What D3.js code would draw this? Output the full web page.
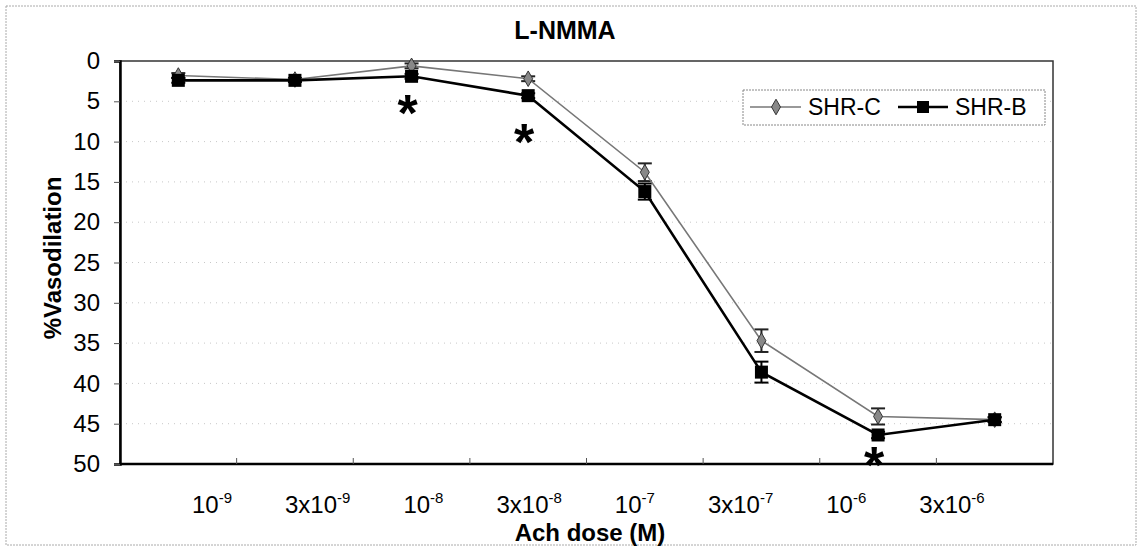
<!DOCTYPE html>
<html>
<head>
<meta charset="utf-8">
<script src="https://cdn.jsdelivr.net/npm/d3@7"></script>
<style>
  body { margin: 0; background: #fff; }
  text { font-family: Arial, "Liberation Sans", sans-serif; }
</style>
</head>
<body>
<div class="chart"></div>
<script>
// doses (tick labels: base + exponent)
var doses = ["1e-9", "3e-9", "1e-8", "3e-8", "1e-7", "3e-7", "1e-6", "3e-6"];
var doseBase = ["10", "3x10", "10", "3x10", "10", "3x10", "10", "3x10"];
var doseExp = ["-9", "-9", "-8", "-8", "-7", "-7", "-6", "-6"];

var shrC = [1.8, 2.3, 0.6, 2.2, 13.8, 34.7, 44.1, 44.5];
var shrCerr = [0.3, 0.2, 0.3, 0.3, 1.1, 1.4, 1.0, 0.3];
var shrB = [2.4, 2.4, 1.9, 4.3, 16.2, 38.6, 46.4, 44.5];
var shrBerr = [0.3, 0.2, 0.3, 0.3, 1.0, 1.3, 0.4, 0.3];

// significance marks: [dose index, y value]
var stars = [[2, 5.6], [3, 9.2], [6, 49.3]];

var yTicks = [0, 5, 10, 15, 20, 25, 30, 35, 40, 45, 50];

var W = 1140, H = 549;
var pLeft = 120, pRight = 1053, pTop = 61, pBottom = 464;

var svg = d3.select("div.chart").append("svg")
    .attr("width", W).attr("height", H);

// outer frame
svg.append("rect")
    .attr("x", 6).attr("y", 6).attr("width", W - 10).attr("height", H - 10)
    .attr("fill", "none").attr("stroke", "#aaa")
    .attr("stroke-dasharray", "2,1");

var x = d3.scaleBand().domain(doses).range([pLeft, pRight]);
var xc = function(d){ return x(d) + x.bandwidth() / 2; };
var xLab = d3.scalePoint().domain(doses).range([212, 952]);
var y = d3.scaleLinear().domain([0, 50]).range([pTop, pBottom]);

// grid
svg.append("g").selectAll("line")
    .data(yTicks.filter(function(d){ return d > 0 && d < 50; }))
    .enter().append("line")
    .attr("x1", pLeft).attr("x2", pRight)
    .attr("y1", function(d){ return y(d); })
    .attr("y2", function(d){ return y(d); })
    .attr("stroke", "#c8c8c8").attr("stroke-width", 1)
    .attr("stroke-dasharray", "1,5");

// plot frame
svg.append("rect")
    .attr("x", pLeft).attr("y", pTop)
    .attr("width", pRight - pLeft).attr("height", pBottom - pTop)
    .attr("fill", "none").attr("stroke", "#333").attr("stroke-width", 1.5);

// y axis
var yAxis = d3.axisLeft(y).tickValues(yTicks).tickSize(6).tickPadding(14);
var gy = svg.append("g").attr("transform", "translate(" + pLeft + ",0)").call(yAxis);
gy.select(".domain").attr("stroke", "#000").attr("stroke-width", 2.5);
gy.selectAll(".tick line").attr("stroke", "#555");
gy.selectAll(".tick text")
    .attr("font-size", 24).attr("fill", "#000")
    .style("font-family", "Arial, 'Liberation Sans', sans-serif");

// x axis: inward ticks at category boundaries
svg.append("line")
    .attr("x1", pLeft).attr("x2", pRight).attr("y1", pBottom).attr("y2", pBottom)
    .attr("stroke", "#000").attr("stroke-width", 2.5);
svg.append("g").selectAll("line")
    .data(doses.slice(1))
    .enter().append("line")
    .attr("x1", function(d){ return x(d); })
    .attr("x2", function(d){ return x(d); })
    .attr("y1", pBottom).attr("y2", pBottom - 6)
    .attr("stroke", "#555");

var xl = svg.append("g").selectAll("text")
    .data(doses)
    .enter().append("text")
    .attr("x", function(d){ return xLab(d); })
    .attr("y", 513)
    .attr("text-anchor", "middle")
    .attr("font-size", 24);
xl.append("tspan").text(function(d, i){ return doseBase[i]; });
xl.append("tspan").attr("dy", -10).attr("font-size", 15)
    .text(function(d, i){ return doseExp[i]; });

// titles
svg.append("text").attr("x", 565).attr("y", 39)
    .attr("text-anchor", "middle").attr("font-size", 25).attr("font-weight", "bold")
    .text("L-NMMA");
svg.append("text").attr("x", 590).attr("y", 541)
    .attr("text-anchor", "middle").attr("font-size", 24).attr("font-weight", "bold")
    .text("Ach dose (M)");
svg.append("text")
    .attr("transform", "translate(61,258) rotate(-90)")
    .attr("text-anchor", "middle").attr("font-size", 24).attr("font-weight", "bold")
    .text("%Vasodilation");

var line = d3.line()
    .x(function(d, i){ return xc(doses[i]); })
    .y(function(d){ return y(d); });

function errorBars(vals, errs, color) {
    var g = svg.append("g").attr("stroke", color).attr("stroke-width", 2);
    vals.forEach(function(v, i){
        var cx = xc(doses[i]);
        g.append("line").attr("x1", cx).attr("x2", cx)
            .attr("y1", y(v - errs[i])).attr("y2", y(v + errs[i]));
        [v - errs[i], v + errs[i]].forEach(function(e){
            g.append("line").attr("x1", cx - 7).attr("x2", cx + 7)
                .attr("y1", y(e)).attr("y2", y(e));
        });
    });
}

errorBars(shrC, shrCerr, "#222");
errorBars(shrB, shrBerr, "#000");

// SHR-C series
svg.append("path").datum(shrC)
    .attr("d", line).attr("fill", "none")
    .attr("stroke", "#777").attr("stroke-width", 1.6);
svg.append("g").selectAll("path")
    .data(shrC).enter().append("path")
    .attr("d", d3.symbol().type(d3.symbolDiamond).size(70))
    .attr("transform", function(d, i){ return "translate(" + xc(doses[i]) + "," + y(d) + ")"; })
    .attr("fill", "#888").attr("stroke", "#333").attr("stroke-width", 1);

// SHR-B series
svg.append("path").datum(shrB)
    .attr("d", line).attr("fill", "none")
    .attr("stroke", "#000").attr("stroke-width", 2.6);
svg.append("g").selectAll("rect")
    .data(shrB).enter().append("rect")
    .attr("x", function(d, i){ return xc(doses[i]) - 6.5; })
    .attr("y", function(d){ return y(d) - 6.5; })
    .attr("width", 13).attr("height", 13)
    .attr("fill", "#000");

// asterisks
svg.append("g").selectAll("text")
    .data(stars).enter().append("text")
    .attr("x", function(d){ return xc(doses[d[0]]) - 4; })
    .attr("y", function(d){ return y(d[1]) + 25; })
    .attr("text-anchor", "middle")
    .attr("font-size", 52).attr("font-weight", "bold")
    .text("*");

// legend
var lg = svg.append("g");
lg.append("rect").attr("x", 743).attr("y", 90).attr("width", 302).attr("height", 35)
    .attr("fill", "#fff").attr("stroke", "#888").attr("stroke-dasharray", "2,1");
lg.append("line").attr("x1", 750).attr("x2", 801).attr("y1", 107).attr("y2", 107)
    .attr("stroke", "#777").attr("stroke-width", 1.6);
lg.append("path").attr("d", d3.symbol().type(d3.symbolDiamond).size(70))
    .attr("transform", "translate(776,107)")
    .attr("fill", "#888").attr("stroke", "#333");
lg.append("text").attr("x", 808).attr("y", 115).attr("font-size", 23).text("SHR-C");
lg.append("line").attr("x1", 898).attr("x2", 948).attr("y1", 107).attr("y2", 107)
    .attr("stroke", "#000").attr("stroke-width", 2.6);
lg.append("rect").attr("x", 917).attr("y", 101).attr("width", 12).attr("height", 12)
    .attr("fill", "#000");
lg.append("text").attr("x", 955).attr("y", 115).attr("font-size", 23).text("SHR-B");
</script>
</body>
</html>
